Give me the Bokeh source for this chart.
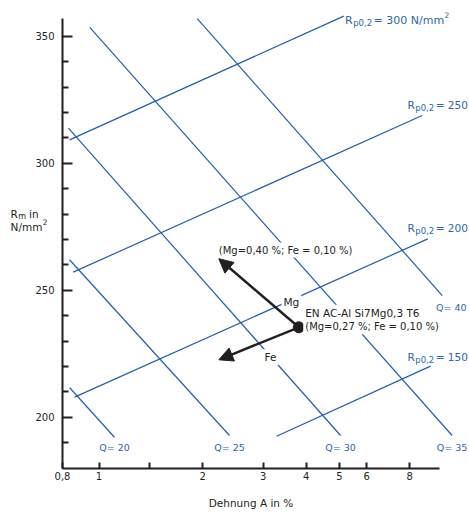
from bokeh.plotting import figure
from bokeh.models import Range1d, FixedTicker, Label, Arrow, NormalHead, ColumnDataSource
from bokeh.embed import file_html
from bokeh.resources import INLINE

# ---------------- data ----------------
# Rp0,2 iso-lines (yield strength, N/mm^2): start / end points (A in %, Rm in N/mm^2)
rp_levels = [300, 250, 200, 150]
rp_x0 = [0.821, 0.841, 0.849, 3.281]
rp_y0 = [309.2, 257.1, 207.9, 192.5]
rp_x1 = [5.148, 8.70, 9.03, 9.20]
rp_y1 = [357.9, 318.8, 270.2, 220.1]

# Quality-index iso-lines Q
q_levels = [20, 25, 30, 35, 40]
q_x0 = [0.822, 0.821, 0.815, 0.940, 1.930]
q_y0 = [211.6, 262.0, 313.8, 353.5, 356.9]
q_x1 = [1.109, 2.395, 5.036, 10.63, 9.95]
q_y1 = [192.1, 192.8, 192.8, 192.8, 247.9]

# alloy point EN AC-AlSi7Mg0,3 T6 and influence arrows
alloy_x = [3.809]
alloy_y = [235.4]
arrow_names = ["Mg", "Fe"]
arrow_tip_x = [2.230, 2.230]
arrow_tip_y = [262.4, 222.6]

# axes
x_axis_start, x_axis_end = 0.7834, 9.8
y_axis_start, y_axis_end = 179.8, 357.1
x_ticks = [x_axis_start, 1, 1.4, 2, 3, 4, 5, 6, 8]
x_tick_labels = ["0,8", "1", "", "2", "3", "4", "5", "6", "8"]
y_ticks = [200, 250, 300, 350]
y_minor_ticks = [190, 210, 220, 230, 240, 260, 270, 280, 290, 310, 320, 330, 340]

# ---------------- style ----------------
BLUE = "#1f5fae"
BLUE_TXT = "#2a65b0"
DARK = "#231f20"
FONT = "DejaVu Sans"

# DejaVu Sans advance widths (em) used to chain sub/superscript pieces
W = {" ": .318, ",": .318, "=": .838, "/": .337, "R": .695, "N": .748, "m": .974,
     "p": .635, "i": .278, "n": .634}
def tw(s, size):
    return sum(W.get(c, .636) for c in s) * size

# the frame covers the whole canvas; the axes sit at fixed data locations inside it
p = figure(width=469, height=512, x_axis_type="log", title=None,
           x_range=Range1d(0.5172, 11.94), y_range=Range1d(162.48, 364.06),
           output_backend="svg", toolbar_location=None,
           min_border=0, min_border_left=0, min_border_right=0,
           min_border_top=0, min_border_bottom=0)
p.outline_line_color = None
p.grid.visible = False
p.background_fill_color = "white"
p.border_fill_color = "white"

xa, ya = p.xaxis[0], p.yaxis[0]
for ax in (xa, ya):
    ax.axis_line_color = DARK
    ax.axis_line_width = 2
    ax.major_tick_line_color = DARK
    ax.major_tick_line_width = 2
    ax.minor_tick_line_color = DARK
    ax.minor_tick_line_width = 2
    ax.major_tick_out = 0
    ax.minor_tick_out = 0
    ax.major_label_text_font = FONT
    ax.major_label_text_font_size = "10px"
    ax.major_label_text_color = DARK
xa.fixed_location = y_axis_start
xa.ticker = FixedTicker(ticks=x_ticks, minor_ticks=[])
xa.major_label_overrides = {t: l for t, l in zip(x_ticks, x_tick_labels)}
xa.major_tick_in = 6
xa.major_label_standoff = 3
xa.bounds = (x_axis_start, x_axis_end)
ya.fixed_location = x_axis_start
ya.ticker = FixedTicker(ticks=y_ticks, minor_ticks=y_minor_ticks)
ya.major_tick_in = 10
ya.minor_tick_in = 6
ya.major_label_standoff = 8
ya.bounds = (y_axis_start, y_axis_end)

# iso-lines
p.segment(x0="x0", y0="y0", x1="x1", y1="y1", line_color=BLUE, line_width=1.2,
          source=ColumnDataSource(dict(x0=rp_x0, y0=rp_y0, x1=rp_x1, y1=rp_y1)))
p.segment(x0="x0", y0="y0", x1="x1", y1="y1", line_color=BLUE, line_width=1.2,
          source=ColumnDataSource(dict(x0=q_x0, y0=q_y0, x1=q_x1, y1=q_y1)))

# alloy point + arrows
p.scatter(x=alloy_x, y=alloy_y, size=11, color=DARK)
for tx, ty in zip(arrow_tip_x, arrow_tip_y):
    p.add_layout(Arrow(end=NormalHead(size=14, fill_color=DARK, line_color=DARK, line_width=1),
                       x_start=alloy_x[0], y_start=alloy_y[0], x_end=tx, y_end=ty,
                       line_color=DARK, line_width=2.5))

def lab(text, x, y, size, color, dx=0, dy=0, align="left", bg=False):
    l = Label(x=x, y=y, x_offset=dx, y_offset=dy, text=text, text_font=FONT,
              text_font_size=f"{size}px", text_color=color, text_align=align,
              text_baseline="alphabetic")
    if bg:
        l.background_fill_color = "white"
        l.padding = 2
    p.add_layout(l)

def rich(pieces, x, y, color, sub_gap=1.5):
    # pieces: (text, size, kind) kind in "", "sub", "sup"
    dx = 0
    for text, size, kind in pieces:
        dy = {"": 0, "sub": -3, "sup": 5}[kind]
        lab(text, x, y, size, color, dx=dx, dy=dy)
        dx += tw(text, size) + (sub_gap if kind == "sub" else 0.5 if kind == "" else 0)

# Rp0,2 labels
rp_label_x = [5.189, 7.885, 7.885, 7.885]
rp_label_y = [356.2, 323.1, 274.6, 223.6]
for i, lvl in enumerate(rp_levels):
    if i == 0:
        pieces = [("R", 11, ""), ("p0,2", 8.5, "sub"), (f"= {lvl} N/mm", 11, ""), ("2", 7.5, "sup")]
    else:
        pieces = [("R", 10.5, ""), ("p0,2", 8.5, "sub"), (f"= {lvl}", 10.5, "")]
    rich(pieces, rp_label_x[i], rp_label_y[i], BLUE_TXT)

# Q labels
q_label_dx = [0, 0, 0, 0, 9]
q_label_y = [188.0, 188.0, 188.0, 188.0, 243.1]
for i, q in enumerate(q_levels):
    lab(f"Q= {q}", q_x1[i], q_label_y[i], 9.5, BLUE_TXT, dx=q_label_dx[i], align="center")

# annotation texts
lab("(Mg=0,40 %; Fe = 0,10 %)", 2.200, 265.8, 10, DARK, bg=True)
lab("EN AC-Al Si7Mg0,3 T6", 3.95, 241.1, 10.5, DARK, dx=-1, bg=True)
lab("(Mg=0,27 %; Fe = 0,10 %)", 3.95, 235.6, 10, DARK, dx=-1, bg=True)
lab(arrow_names[0], 3.393, 245.3, 10.5, DARK, bg=True)
lab(arrow_names[1], 2.988, 223.6, 10.5, DARK, bg=True)

# axis titles
rich([("R", 10.5, ""), ("m", 8, "sub"), (" in", 10.5, "")], 0.5531, 280.1, DARK, sub_gap=3)
rich([("N/mm", 10.5, ""), ("2", 7.5, "sup")], 0.5531, 274.8, DARK)
lab("Dehnung A in %", 2.766, 166.4, 10.5, DARK, align="center")

open("out.html", "w").write(file_html(p, INLINE))
